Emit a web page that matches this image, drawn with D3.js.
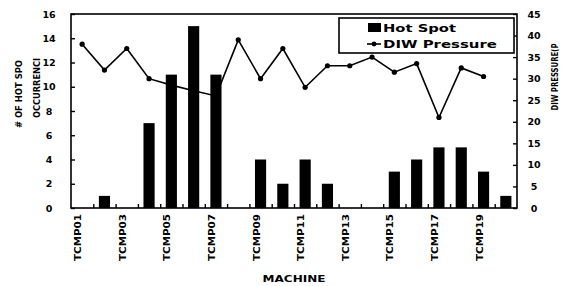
<!DOCTYPE html>
<html>
<head>
<meta charset="utf-8">
<script src="https://cdn.jsdelivr.net/npm/d3@7"></script>
<style>
  body { margin: 0; background: #fff; }
  svg text { font-family: "DejaVu Sans", "Liberation Sans", sans-serif; font-weight: bold; fill: #000; }
</style>
</head>
<body>
<svg id="chart" width="567" height="286"></svg>
<script>
const machines = d3.range(1, 21).map((i) => "TCMP" + String(i).padStart(2, "0"));
const hotSpots = [0, 1, 0, 7, 11, 15, 11, 0, 4, 2, 4, 2, 0, 0, 3, 4, 5, 5, 3, 1];
const diwPressure = [38, 32, 37, 30, 28.5, 27.2, 26, 39, 30, 37, 28, 33, 33, 35, 31.5, 33.5, 21, 32.5, 30.5, null];
const leftTicks = [0, 2, 4, 6, 8, 10, 12, 14, 16];
const rightTicks = [0, 5, 10, 15, 20, 25, 30, 35, 40, 45];
const shownLabels = machines.filter((d, i) => i % 2 === 0);

const svg = d3.select("#chart"),
  margin = { top: 14, right: 50, bottom: 78, left: 71 },
  width = 567 - margin.left - margin.right,
  height = 286 - margin.top - margin.bottom,
  g = svg.append("g").attr("transform", "translate(" + margin.left + "," + margin.top + ")");

const x = d3.scaleBand().domain(machines).range([0, width]).paddingInner(0.5).paddingOuter(0.25);
const yL = d3.scaleLinear().domain([0, 16]).range([height, 0]);
const yR = d3.scaleLinear().domain([0, 45]).range([height, 0]);
const cx = (d) => x(d) + x.bandwidth() / 2;

// pressure line (behind the bars)
const pts = machines.map((m, i) => ({ m, v: diwPressure[i] })).filter((p) => p.v != null);
g.append("path")
  .datum(pts)
  .attr("fill", "none")
  .attr("stroke", "#000")
  .attr("stroke-width", 1.6)
  .attr("d", d3.line().x((p) => cx(p.m)).y((p) => yR(p.v)));
g.selectAll("circle.pt")
  .data(pts)
  .enter()
  .append("circle")
  .attr("class", "pt")
  .attr("cx", (p) => cx(p.m))
  .attr("cy", (p) => yR(p.v))
  .attr("r", 2.6)
  .attr("fill", "#000");

// bars
g.selectAll("rect.bar")
  .data(machines.map((m, i) => ({ m, v: hotSpots[i] })))
  .enter()
  .append("rect")
  .attr("class", "bar")
  .attr("x", (d) => x(d.m))
  .attr("y", (d) => yL(d.v))
  .attr("width", x.bandwidth())
  .attr("height", (d) => height - yL(d.v))
  .attr("fill", "#000");

// frame
g.append("rect")
  .attr("width", width)
  .attr("height", height)
  .attr("fill", "none")
  .attr("stroke", "#000")
  .attr("stroke-width", 1.6);

// axes
const left = g.append("g").call(d3.axisLeft(yL).tickValues(leftTicks).tickSize(-4).tickPadding(14));
const right = g.append("g").attr("transform", "translate(" + width + ",0)")
  .call(d3.axisRight(yR).tickValues(rightTicks).tickSize(-4).tickPadding(14));
const bounds = machines.map((m) => x(m) - x.step() * x.paddingInner() / 2).slice(1);
const bottom = g.append("g").attr("transform", "translate(0," + height + ")")
  .call(d3.axisBottom(d3.scaleLinear().domain([0, width]).range([0, width])).tickValues(bounds).tickSize(-4).tickFormat(""));
[left, right, bottom].forEach((a) => {
  a.select(".domain").remove();
  a.selectAll(".tick line").attr("stroke", "#000").attr("stroke-width", 1.4);
  a.selectAll("text").style("font-size", "9.5px");
});
left.selectAll("text").attr("text-anchor", "middle").attr("x", -22);
right.selectAll("text").attr("text-anchor", "middle").attr("x", 17);

// machine labels
g.append("g")
  .selectAll("text")
  .data(shownLabels)
  .enter()
  .append("text")
  .attr("transform", (d) => "translate(" + (cx(d) - 1) + "," + (height + 6) + ") rotate(-90)")
  .attr("text-anchor", "end")
  .attr("textLength", 47)
  .attr("lengthAdjust", "spacingAndGlyphs")
  .style("font-size", "9px")
  .text((d) => d);

svg.append("text")
  .attr("x", margin.left + width / 2)
  .attr("y", 282)
  .attr("text-anchor", "middle")
  .attr("textLength", 63)
  .attr("lengthAdjust", "spacingAndGlyphs")
  .style("font-size", "9.5px")
  .text("MACHINE");

// y titles
svg.append("text")
  .attr("transform", "translate(22,94) rotate(-90)")
  .attr("text-anchor", "middle")
  .attr("textLength", 68)
  .attr("lengthAdjust", "spacingAndGlyphs")
  .style("font-size", "9px")
  .text("# OF HOT SPO");
svg.append("text")
  .attr("transform", "translate(40,88) rotate(-90)")
  .attr("text-anchor", "middle")
  .attr("textLength", 60)
  .attr("lengthAdjust", "spacingAndGlyphs")
  .style("font-size", "9px")
  .text("OCCURRENCI");
svg.append("text")
  .attr("transform", "translate(558,77) rotate(-90)")
  .attr("text-anchor", "middle")
  .attr("textLength", 67)
  .attr("lengthAdjust", "spacingAndGlyphs")
  .style("font-size", "8px")
  .text("DIW PRESSURE(P");

// legend
const lg = svg.append("g").attr("transform", "translate(339,18)");
lg.append("rect").attr("width", 175).attr("height", 35).attr("fill", "#fff").attr("stroke", "#000").attr("stroke-width", 1.6);
lg.append("rect").attr("x", 29).attr("y", 5).attr("width", 13).attr("height", 9).attr("fill", "#000");
lg.append("line").attr("x1", 28).attr("x2", 42).attr("y1", 26).attr("y2", 26).attr("stroke", "#000").attr("stroke-width", 1.6);
lg.append("circle").attr("cx", 35).attr("cy", 26).attr("r", 2.4).attr("fill", "#000");
lg.append("text").attr("x", 44).attr("y", 14).attr("textLength", 73).attr("lengthAdjust", "spacingAndGlyphs")
  .style("font-size", "11px").text("Hot Spot");
lg.append("text").attr("x", 44).attr("y", 30).attr("textLength", 114).attr("lengthAdjust", "spacingAndGlyphs")
  .style("font-size", "11px").text("DIW Pressure");
</script>
</body>
</html>
